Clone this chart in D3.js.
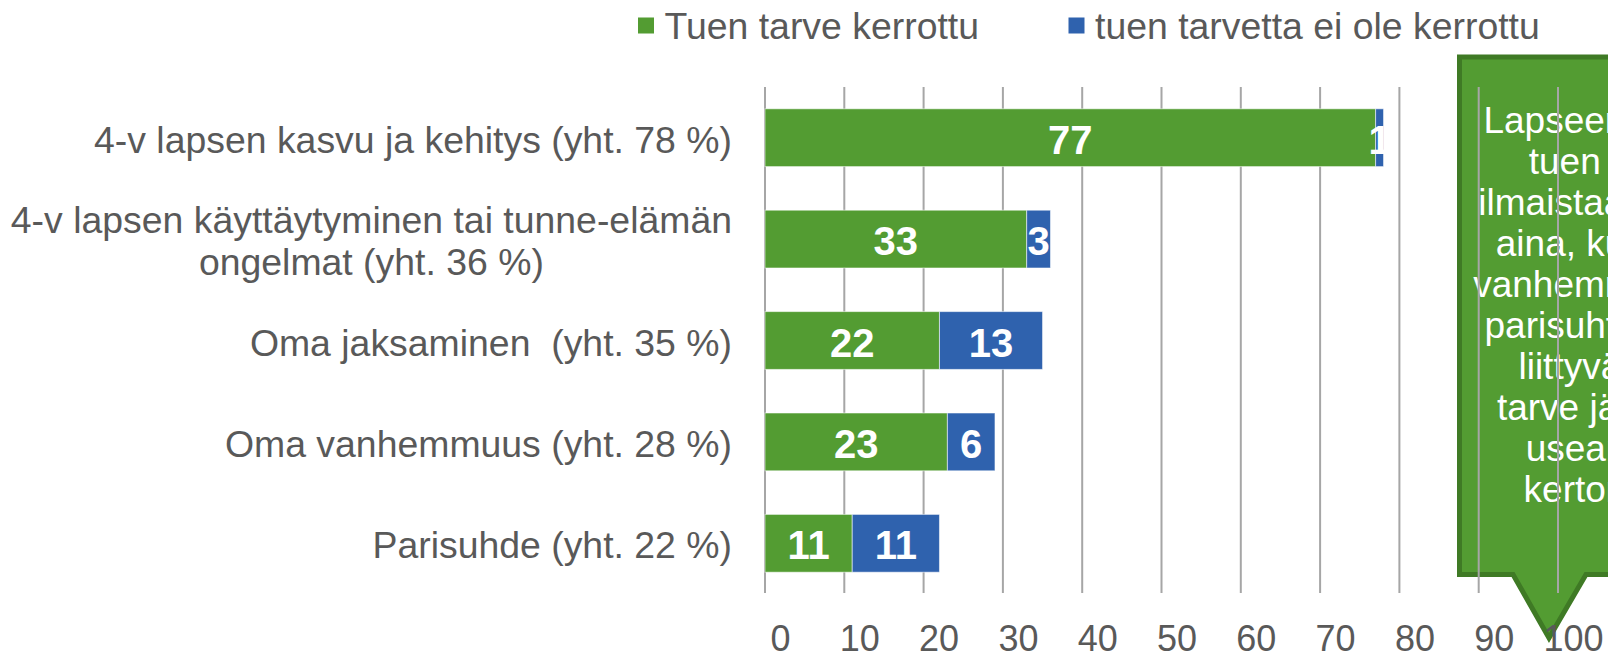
<!DOCTYPE html>
<html>
<head>
<meta charset="utf-8">
<script src="https://cdn.jsdelivr.net/npm/d3@7"></script>
<style>
  html, body { margin: 0; padding: 0; background: #ffffff; }
  svg { display: block; font-family: Arial, "Liberation Sans", sans-serif; }
</style>
</head>
<body>
<svg id="chart" width="1608" height="654"></svg>
<script>
// Categories (each entry split into its display lines)
const categoryLines = [
  ["4-v lapsen kasvu ja kehitys (yht. 78 %)"],
  ["4-v lapsen käyttäytyminen tai tunne-elämän", "ongelmat (yht. 36 %)"],
  ["Oma jaksaminen  (yht. 35 %)"],
  ["Oma vanhemmuus (yht. 28 %)"],
  ["Parisuhde (yht. 22 %)"]
];
// Series values (%)
const toldValues = [77, 33, 22, 23, 11];
const notToldValues = [1, 3, 13, 6, 11];
const seriesNames = ["Tuen tarve kerrottu", "tuen tarvetta ei ole kerrottu"];
const seriesColors = ["#539c32", "#2f62ae"];
// Axis ticks
const tickValues = [0, 10, 20, 30, 40, 50, 60, 70, 80, 90, 100];
// Callout text lines
const calloutLines = [
  "Lapseen liittyvä", "tuen tarve", "ilmaistaan lähes", "aina, kun taas",
  "vanhemmuuteen", "parisuhteeseen", "liittyvä tuen", "tarve jäi myös",
  "useammin", "kertomatta"
];

const svg = d3.select("#chart");
const textGray = "#595959";

const x = d3.scaleLinear().domain([0, 100]).range([765, 1558]);
const ids = categoryLines.map((d, i) => i);
const y = d3.scaleBand().domain(ids).range([87, 594]).paddingInner(0.43).paddingOuter(0.215);
const gridTop = 87, gridBottom = 593;

// Callout shape (behind the grid)
const cx0 = 1459.5, cy0 = 57, cy1 = 574.5;
const callout = d3.path();
callout.moveTo(cx0, cy0);
callout.lineTo(1640, cy0);
callout.lineTo(1640, cy1);
callout.lineTo(1586, cy1);
callout.lineTo(1549, 638);
callout.lineTo(1513, cy1);
callout.lineTo(cx0, cy1);
callout.closePath();
svg.append("path")
  .attr("d", callout.toString())
  .attr("fill", "#539c32")
  .attr("stroke", "#3f7a25")
  .attr("stroke-width", 5)
  .attr("stroke-linejoin", "miter");

svg.append("g")
  .selectAll("text")
  .data(calloutLines)
  .join("text")
  .attr("x", 1611)
  .attr("y", (d, i) => 120 + i * 41)
  .attr("dy", "0.35em")
  .attr("text-anchor", "middle")
  .attr("fill", "#ffffff")
  .attr("font-size", 37)
  .text(d => d);

// Vertical gridlines
svg.append("g")
  .selectAll("line")
  .data(tickValues)
  .join("line")
  .attr("x1", d => x(d)).attr("x2", d => x(d))
  .attr("y1", gridTop).attr("y2", gridBottom)
  .attr("stroke", "#a6a6a6")
  .attr("stroke-width", 2);

// Stacked bars
const stackData = ids.map(i => ({ id: i, told: toldValues[i], notTold: notToldValues[i] }));
const stack = d3.stack().keys(["told", "notTold"])(stackData);

const barG = svg.append("g");
stack.forEach((layer, li) => {
  barG.append("g")
    .selectAll("rect")
    .data(layer)
    .join("rect")
    .attr("x", d => x(d[0]))
    .attr("y", d => y(d.data.id))
    .attr("width", d => x(d[1]) - x(d[0]))
    .attr("height", y.bandwidth())
    .attr("fill", seriesColors[li])
    .attr("stroke", "#ffffff")
    .attr("stroke-opacity", 0.55)
    .attr("stroke-width", 1);
});

// Value labels
stack.forEach((layer, li) => {
  barG.append("g")
    .selectAll("text")
    .data(layer)
    .join("text")
    .attr("x", d => (x(d[0]) + x(d[1])) / 2)
    .attr("y", d => y(d.data.id) + y.bandwidth() / 2)
    .attr("dy", "0.4em")
    .attr("text-anchor", "middle")
    .attr("fill", "#ffffff")
    .attr("font-size", 40)
    .attr("font-weight", "bold")
    .text(d => d[1] - d[0]);
});

// Category labels: block right-aligned, lines centred within the block
const labelRight = 732;
const catG = svg.append("g");
categoryLines.forEach((lines, i) => {
  const g = catG.append("g");
  const texts = g.selectAll("text")
    .data(lines)
    .join("text")
    .attr("font-size", 37.4)
    .attr("fill", textGray)
    .style("white-space", "pre")
    .attr("text-anchor", "middle")
    .text(d => d);
  let maxW = 0;
  texts.each(function () { maxW = Math.max(maxW, this.getComputedTextLength()); });
  const cy = y(i) + y.bandwidth() / 2 + 2;
  const lh = 41.5;
  texts
    .attr("x", labelRight - maxW / 2)
    .attr("y", (d, k) => cy + (k - (lines.length - 1) / 2) * lh)
    .attr("dy", "0.35em");
});

// X axis tick labels
svg.append("g")
  .selectAll("text")
  .data(tickValues)
  .join("text")
  .attr("x", d => x(d) + 15.5)
  .attr("y", 651)
  .attr("text-anchor", "middle")
  .attr("font-size", 36)
  .attr("fill", textGray)
  .text(d => d);

// Legend
const legendItems = [
  { name: seriesNames[0], color: seriesColors[0], sx: 638, tx: 664.5 },
  { name: seriesNames[1], color: seriesColors[1], sx: 1068.5, tx: 1095 }
];
const lg = svg.append("g");
lg.selectAll("rect")
  .data(legendItems)
  .join("rect")
  .attr("x", d => d.sx).attr("y", 17.5)
  .attr("width", 16).attr("height", 16)
  .attr("fill", d => d.color);
lg.selectAll("text")
  .data(legendItems)
  .join("text")
  .attr("x", d => d.tx).attr("y", 38.5)
  .attr("font-size", 37.4)
  .attr("fill", textGray)
  .text(d => d.name);
</script>
</body>
</html>
